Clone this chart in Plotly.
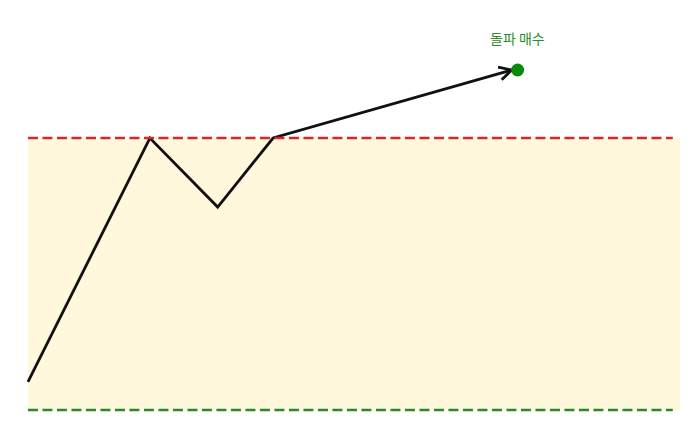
import math
import plotly.graph_objects as go

# price path (time index, price) - support at 0, resistance at 100
path_x = [0, 18.7, 29.1, 37.6, 74.2]
path_y = [10.3, 100, 74.6, 100, 125]

support = 0
resistance = 100
zone_x = [0, 100]
line_x = [0, 98.9]

signal_x = [75.1]
signal_y = [125]
signal_label = "돌파 매수"
label_y = 136.8

W, H = 700, 437
# the page adds an 8px body margin, so ranges are shifted to compensate
x_range = [-3.06, 104.3]
y_range = [-12.87, 147.8]

# pixel scale, used to build the open arrow head
px_x = W / (x_range[1] - x_range[0])
px_y = H / (y_range[1] - y_range[0])

fig = go.Figure()

# consolidation zone
fig.add_shape(type="rect", x0=zone_x[0], x1=zone_x[1], y0=support, y1=resistance,
              fillcolor="#fff8dc", line_width=0, layer="below")
fig.add_shape(type="line", x0=line_x[0], x1=line_x[1], y0=resistance, y1=resistance,
              line=dict(color="#d9262c", width=2.5, dash="10px,4.5px"))
fig.add_shape(type="line", x0=line_x[0], x1=line_x[1], y0=support, y1=support,
              line=dict(color="#2a8a2a", width=2.5, dash="10px,4.5px"))

fig.add_trace(go.Scatter(x=path_x, y=path_y, mode="lines",
                         line=dict(color="#111111", width=2.8), hoverinfo="skip"))

# open ">" arrow head at the end of the last segment
dx = (path_x[-1] - path_x[-2]) * px_x
dy = (path_y[-1] - path_y[-2]) * px_y
ang = math.atan2(dy, dx)
head_len, head_ang = 14, math.radians(28)
hx, hy = [], []
for s in (1, -1):
    a = ang + math.pi + s * head_ang
    hx += [path_x[-1] + head_len * math.cos(a) / px_x, path_x[-1], None]
    hy += [path_y[-1] + head_len * math.sin(a) / px_y, path_y[-1], None]
fig.add_trace(go.Scatter(x=hx, y=hy, mode="lines",
                         line=dict(color="#111111", width=2.8), hoverinfo="skip"))

fig.add_trace(go.Scatter(x=signal_x, y=signal_y, mode="markers",
                         marker=dict(color="#0a8a0a", size=13), hoverinfo="skip"))

fig.add_annotation(x=signal_x[0], y=label_y, text=signal_label, showarrow=False,
                   font=dict(family="Noto Sans CJK KR", size=14, color="#2e8b2e"))

fig.update_layout(
    width=W, height=H,
    margin=dict(l=0, r=0, t=0, b=0),
    plot_bgcolor="white", paper_bgcolor="white",
    showlegend=False,
    xaxis=dict(range=x_range, visible=False, fixedrange=True),
    yaxis=dict(range=y_range, visible=False, fixedrange=True),
)

fig.write_html("out.html")
